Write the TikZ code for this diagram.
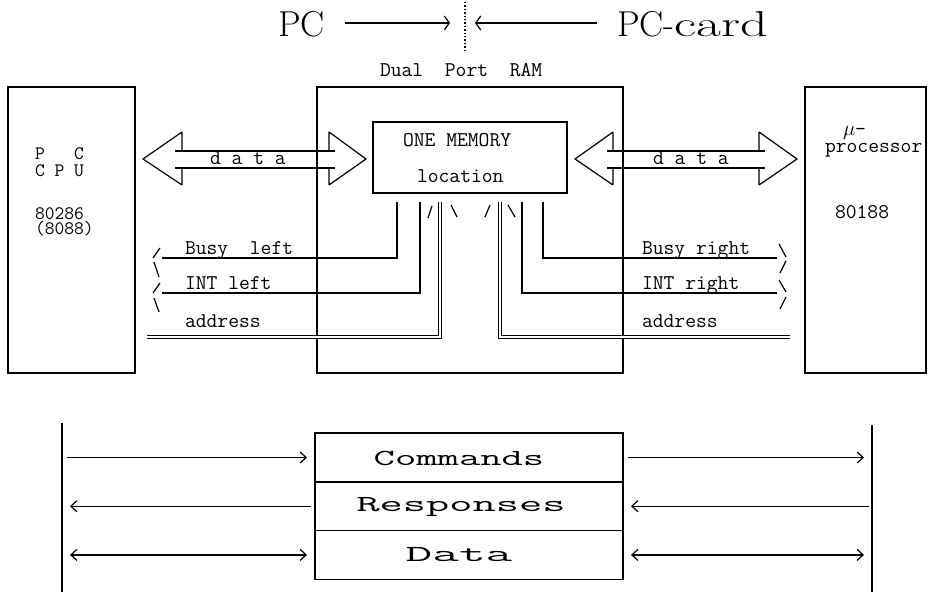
\documentclass[tikz,border=0pt]{standalone}
\usepackage{fontspec}
\usetikzlibrary{arrows.meta}

\tikzset{
  x=1pt, y=-1pt,
  box/.style={draw, line width=1.4pt, inner sep=0pt, outer sep=0pt},
  wire/.style={line width=1.3pt},
  bus/.style={double, double distance=2.6pt, line width=1.1pt},
  tipline/.style={line width=1.2pt},
  chevbig/.style={wire, -{Straight Barb[length=5pt,width=14pt,line width=1.2pt]}},
  chev/.style={wire, -{Straight Barb[length=6pt,width=11pt,line width=1.2pt]}},
  dchev/.style={wire, {Straight Barb[length=6pt,width=11pt,line width=1.2pt]}-{Straight Barb[length=6pt,width=11pt,line width=1.2pt]}},
  mono/.style={font=\ttfamily\fontsize{21}{14}\selectfont\addfontfeature{FakeBold=2.5},
               inner sep=0pt, outer sep=0pt},
  small mono/.style={font=\ttfamily\fontsize{19}{14}\selectfont\addfontfeature{FakeBold=2.5},
               inner sep=0pt, outer sep=0pt, text height=8pt, text depth=0pt},
  rowtext/.style={font=\ttfamily\fontsize{23}{26}\selectfont\addfontfeature{FakeBold=2.5}, inner sep=0pt},
  big/.style={font=\fontsize{36}{40}\selectfont\addfontfeature{FakeBold=1.5}, inner sep=0pt, outer sep=0pt},
}

\begin{document}
\begin{tikzpicture}
\useasboundingbox (0,0) rectangle (928,593);
\fill[white] (0,0) rectangle (928,593);

% ---------- heading: PC | PC-card ----------
\node[big, anchor=base west] (pc) at (278,37) {PC};
\node[big, anchor=base west] (pccard) at (617,37) {PC-\scalebox{1.5}[1]{card}};
\coordinate (a1s) at (345,23);
\coordinate (a1e) at (450,23);
\coordinate (a2s) at (597,23);
\coordinate (a2e) at (475,23);
\draw[chevbig] (a1s) -- (a1e);
\draw[chevbig] (a2s) -- (a2e);
\coordinate (divtop) at (465,2);
\coordinate (divbot) at (465,53);
\draw[dotted, line width=1.4pt] (divtop) -- (divbot);

% ---------- the three blocks ----------
\node[mono, anchor=base west] (dprlabel) at (380,77) {Dual\ \ Port\ \ RAM};
\node[box, minimum width=127pt, minimum height=286pt] (cpu) at (71.5,230) {};
\node[box, minimum width=306pt, minimum height=286pt] (dpr) at (470,230) {};
\node[box, minimum width=121pt, minimum height=286pt] (mpu) at (865.5,230) {};
\node[box, minimum width=194pt, minimum height=71pt] (mem) at (470,157.5) {};

\node[small mono, anchor=base west] (cpu1) at (35,160) {P\ \ \ C};
\node[small mono, anchor=base west] (cpu2) at (35,177) {C P U};
\node[small mono, anchor=base west] (cpu3) at (35,220) {80286};
\node[small mono, anchor=base west] (cpu4) at (35,235) {(8088)};

\node[mono, anchor=base west] (mpu1) at (843,136) {$\mu$-};
\node[mono, anchor=base west] (mpu2) at (825,153) {processor};
\node[mono, anchor=base west] (mpu3) at (835,219) {80188};

\node[mono, anchor=base west] (mem1) at (403,147) {ONE MEMORY};
\node[mono, anchor=base west] (mem2) at (417,183) {location};

% ---------- hollow data arrows ----------
% left: CPU <-> memory
\draw[tipline] (182,132) -- (143,159) -- (182,185)
               (182,132) -- (182,151) (182,168) -- (182,185);
\draw[tipline] (329,132) -- (366,159) -- (329,185)
               (329,132) -- (329,151) (329,168) -- (329,185);
\draw[tipline] (175,151) -- (335,151) (175,168) -- (335,168);
\node[mono, anchor=base west] (dataL) at (210,165) {d a t a};
% right: memory <-> processor
\draw[tipline] (613,132) -- (575,159) -- (613,185)
               (613,132) -- (613,151) (613,168) -- (613,185);
\draw[tipline] (759,132) -- (797,159) -- (759,185)
               (759,132) -- (759,151) (759,168) -- (759,185);
\draw[tipline] (607,151) -- (765,151) (607,168) -- (765,168);
\node[mono, anchor=base west] (dataR) at (653,165) {d a t a};

% ---------- control and address lines, left side ----------
\coordinate (busyL) at (397,202);
\coordinate (intL) at (420,202);
\coordinate (addrL) at (440,202);
\coordinate (busyLend) at (162,258);
\coordinate (intLend) at (162,293);
\coordinate (addrLend) at (147,337);
\draw[wire] (busyL) |- (busyLend);
\draw[wire] (intL) |- (intLend);
\draw[bus] (addrL) |- (addrLend);
\draw[tipline] (160,248) -- (153,258) (154,262) -- (159,277);
\draw[tipline] (160,283) -- (153,293) (154,298) -- (159,312);
\draw[tipline] (432,206) -- (428,218) (451,205) -- (457,217);
\node[mono, anchor=base west] (lblBL) at (185,255) {Busy\ \ left};
\node[mono, anchor=base west] (lblIL) at (185,290) {INT left};
\node[mono, anchor=base west] (lblAL) at (185,327) {address};

% ---------- control and address lines, right side ----------
\coordinate (busyR) at (543,202);
\coordinate (intR) at (522,202);
\coordinate (addrR) at (500,202);
\coordinate (busyRend) at (777,258);
\coordinate (intRend) at (777,293);
\coordinate (addrRend) at (790,337);
\draw[wire] (busyR) |- (busyRend);
\draw[wire] (intR) |- (intRend);
\draw[bus] (addrR) |- (addrRend);
\draw[tipline] (779,244) -- (786,257) (786,261) -- (780,273);
\draw[tipline] (779,280) -- (786,292) (786,297) -- (780,309);
\draw[tipline] (490,205) -- (485,217) (508,205) -- (515,217);
\node[mono, anchor=base west] (lblBR) at (642,255) {Busy right};
\node[mono, anchor=base west] (lblIR) at (642,290) {INT right};
\node[mono, anchor=base west] (lblAR) at (642,327) {address};

% ---------- message table ----------
\coordinate (lbar) at (62,423);
\coordinate (lbarb) at (62,592);
\coordinate (rbar) at (872,425);
\coordinate (rbarb) at (872,592);
\draw[wire] (lbar) -- (lbarb);
\draw[wire] (rbar) -- (rbarb);

\node[box, minimum width=308pt, minimum height=48.7pt] (cmd) at (469,457.5) {};
\node[box, minimum width=308pt, minimum height=48.7pt] (rsp) at (469,506.2) {};
\node[box, minimum width=308pt, minimum height=48.7pt] (dat) at (469,554.9) {};
\node[rowtext] (cmdt) at (459,458) {\scalebox{1.8}[1]{Commands}};
\node[rowtext] (rspt) at (461,507) {\scalebox{1.96}[1]{Responses}};
\node[rowtext] (datt) at (459,555) {\scalebox{2.25}[1]{Data}};

\draw[chev] ([xshift=5pt]lbar |- cmd.west) -- ([xshift=-8pt]cmd.west);
\draw[chev] ([xshift=5pt]cmd.east) -- ([xshift=-8pt]rbar |- cmd.east);
\draw[chev] ([xshift=-4pt]rsp.west) -- ([xshift=8pt]lbar |- rsp.west);
\draw[chev] ([xshift=-3pt]rbar |- rsp.east) -- ([xshift=8pt]rsp.east);
\draw[dchev] ([xshift=8pt]lbar |- dat.west) -- ([xshift=-8pt]dat.west);
\draw[dchev] ([xshift=8pt]dat.east) -- ([xshift=-8pt]rbar |- dat.east);
\end{tikzpicture}
\end{document}
